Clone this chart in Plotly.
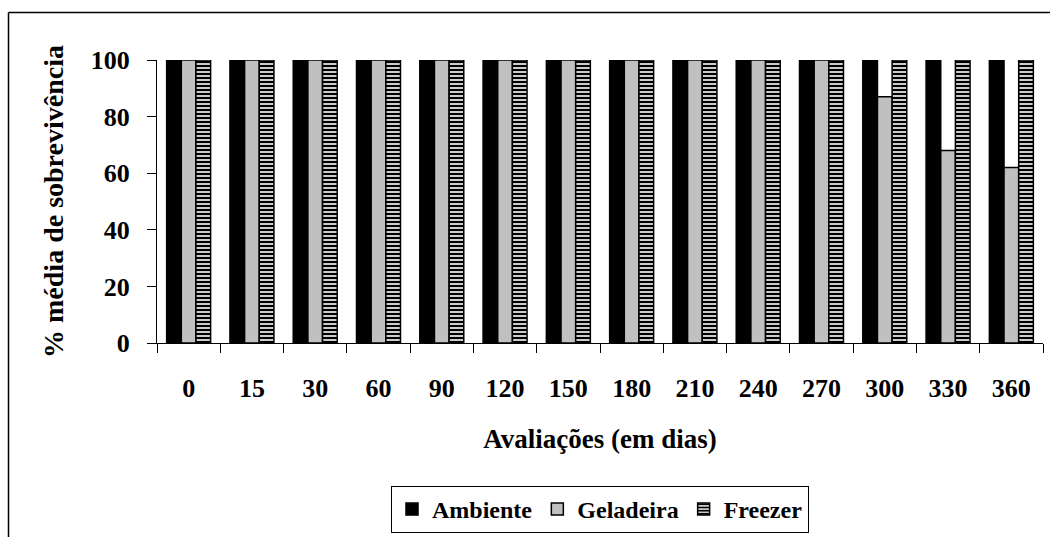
import plotly.graph_objects as go

dias = ["0", "15", "30", "60", "90", "120", "150", "180", "210", "240", "270", "300", "330", "360"]
ambiente = [100, 100, 100, 100, 100, 100, 100, 100, 100, 100, 100, 100, 100, 100]
geladeira = [100, 100, 100, 100, 100, 100, 100, 100, 100, 100, 100, 87, 68, 62]
freezer = [100, 100, 100, 100, 100, 100, 100, 100, 100, 100, 100, 100, 100, 100]

FONT = "Liberation Serif"
edge = dict(color="black", width=1.5)

fig = go.Figure()
fig.add_trace(go.Bar(name="Ambiente", x=dias, y=ambiente,
                     marker=dict(color="black", line=edge)))
fig.add_trace(go.Bar(name="Geladeira", x=dias, y=geladeira,
                     marker=dict(color="#c0c0c0", line=edge)))
fig.add_trace(go.Bar(name="Freezer", x=dias, y=freezer,
                     marker=dict(color="white", line=edge,
                                 pattern=dict(shape="-", fgcolor="black", bgcolor="white",
                                              fgopacity=1, size=4, solidity=0.6))))

# plot area in pixels: x 157..1043, y 60..343
L, R, T, B = 157, 1043, 60, 343
W, H = R - L, B - T
def px(x):
    return (x - L) / W
def py(y):
    return (B - y) / H

def bold(size):
    return dict(family=FONT, size=size, color="black", weight="bold")

fig.update_layout(
    width=1050, height=537,
    margin=dict(l=L, r=1050 - R, t=T, b=537 - B, autoexpand=False),
    paper_bgcolor="white", plot_bgcolor="white",
    barmode="group", bargap=0.305, bargroupgap=0,
    font=bold(26),
    showlegend=True,
    legend=dict(orientation="h", x=0.5, xanchor="center", y=py(486), yanchor="top",
                bordercolor="black", borderwidth=1, bgcolor="white",
                font=bold(24), itemwidth=30, tracegroupgap=0),
    xaxis=dict(
        type="category", showline=True, linecolor="black", linewidth=1,
        ticks="outside", tickson="boundaries", ticklen=9, tickcolor="black",
        ticklabelstandoff=22, tickfont=bold(26),
        showgrid=False, zeroline=False, automargin=False,
        title=dict(text="Avaliações (em dias)", standoff=26, font=bold(27)),
    ),
    yaxis=dict(
        range=[0, 100], tickvals=[0, 20, 40, 60, 80, 100], showline=True,
        linecolor="black", linewidth=1, ticks="outside", ticklen=9, tickcolor="black",
        ticklabelstandoff=12, tickfont=bold(26), showgrid=False, zeroline=False,
        automargin=False,
        title=dict(text="% média de sobrevivência", standoff=18, font=bold(28)),
    ),
    shapes=[
        dict(type="line", xref="paper", yref="paper", x0=px(8.5), x1=px(8.5),
             y0=py(12.5), y1=py(540), line=dict(color="black", width=1.5)),
        dict(type="line", xref="paper", yref="paper", x0=px(8.5), x1=px(1052),
             y0=py(12.5), y1=py(12.5), line=dict(color="black", width=1.5)),
    ],
)

fig.write_html("out.html")
